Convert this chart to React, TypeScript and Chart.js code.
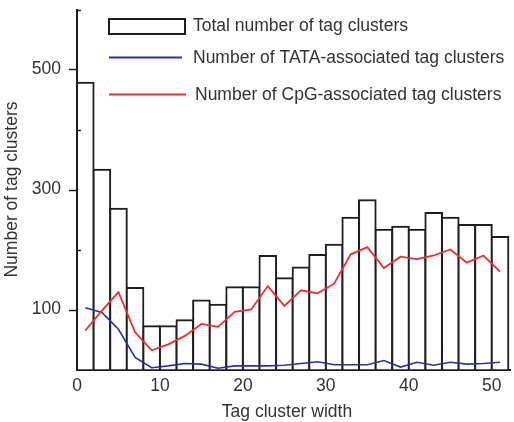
import { useEffect, useRef } from "react";
import { Chart, registerables } from "chart.js";

Chart.register(...registerables);

// Histogram bins are 2 units wide; values are plotted at the bin centres.
const binCenters = [1, 3, 5, 7, 9, 11, 13, 15, 17, 19, 21, 23, 25, 27, 29, 31, 33, 35, 37, 39, 41, 43, 45, 47, 49, 51];
const totalClusters = [478, 333, 268, 136, 72, 72, 82, 115, 108, 137, 137, 189, 152, 170, 191, 208, 253, 282, 233, 238, 233, 261, 253, 241, 241, 221];
const tataClusters = [103, 95, 67, 20, 3, 6, 10, 9, 2, 6, 6, 6, 7, 10, 13, 8, 8, 8, 15, 4, 12, 7, 12, 9, 10, 12];
const cpgClusters = [65, 98, 129, 62, 32, 42, 56, 76, 71, 96, 100, 139, 106, 132, 127, 143, 192, 204, 169, 188, 184, 190, 200, 178, 190, 163];

const seriesLabels = [
  "Total number of tag clusters",
  "Number of TATA-associated tag clusters",
  "Number of CpG-associated tag clusters",
];
const labelledYTicks = [100, 300, 500];
const xTitle = "Tag cluster width";
const yTitle = "Number of tag clusters";

const FONT = '"Liberation Sans", Arial, Helvetica, sans-serif';
const FONT_SIZE = 17.5;
const TEXT = "#333";
const INK = "#1e1e1e";
const BLUE = "#2e3192";
const RED = "#ee2f2f";

const decorations = {
  id: "decorations",
  afterDraw(chart: any) {
    const { ctx, chartArea, scales } = chart;
    const y = scales.y;
    ctx.save();

    // y tick marks: labelled ticks point outward, the others inward
    ctx.strokeStyle = INK;
    ctx.lineWidth = 1.5;
    for (const t of y.ticks) {
      if (t.value === 0) continue;
      const py = Math.round(y.getPixelForValue(t.value)) + 0.5;
      const major = labelledYTicks.includes(t.value);
      ctx.beginPath();
      ctx.moveTo(major ? chartArea.left - 8 : chartArea.left, py);
      ctx.lineTo(chartArea.left + (major ? 1 : 4), py);
      ctx.stroke();
    }

    // x axis title
    ctx.fillStyle = TEXT;
    ctx.font = `${FONT_SIZE}px ${FONT}`;
    ctx.textAlign = "center";
    ctx.textBaseline = "middle";
    ctx.fillText(xTitle, 287, 412);

    // legend
    ctx.textAlign = "left";
    const ds = chart.data.datasets;
    ctx.lineWidth = 2;
    ctx.strokeStyle = INK;
    ctx.strokeRect(109, 19, 76, 15);
    ctx.fillText(ds[0].label, 193, 26);

    ctx.strokeStyle = ds[1].borderColor;
    ctx.beginPath();
    ctx.moveTo(109, 57.5);
    ctx.lineTo(182, 57.5);
    ctx.stroke();
    ctx.fillText(ds[1].label, 193, 58.5);

    ctx.strokeStyle = ds[2].borderColor;
    ctx.beginPath();
    ctx.moveTo(109, 94.5);
    ctx.lineTo(186, 94.5);
    ctx.stroke();
    ctx.fillText(ds[2].label, 195, 95.5);

    ctx.restore();
  },
};

export default function App() {
  const canvasRef = useRef<HTMLCanvasElement | null>(null);

  useEffect(() => {
    const canvas = canvasRef.current;
    if (!canvas) return;

    const chart = new Chart(canvas, {
      type: "bar",
      data: {
        datasets: [
          {
            type: "bar",
            label: seriesLabels[0],
            data: binCenters.map((x, i) => ({ x, y: totalClusters[i] })),
            backgroundColor: "#ffffff",
            borderColor: INK,
            borderWidth: 2,
            inflateAmount: 1,
            barPercentage: 1,
            categoryPercentage: 1,
            order: 3,
          } as any,
          {
            type: "line",
            label: seriesLabels[1],
            data: binCenters.map((x, i) => ({ x, y: tataClusters[i] })),
            borderColor: BLUE,
            borderWidth: 1.6,
            pointRadius: 0,
            tension: 0,
            order: 2,
          },
          {
            type: "line",
            label: seriesLabels[2],
            data: binCenters.map((x, i) => ({ x, y: cpgClusters[i] })),
            borderColor: RED,
            borderWidth: 1.8,
            pointRadius: 0,
            tension: 0,
            order: 1,
          },
        ],
      },
      options: {
        responsive: false,
        animation: false,
        events: [],
        layout: { padding: { top: 9.5, right: 4, left: 0, bottom: 0 } },
        plugins: {
          legend: { display: false },
          tooltip: { enabled: false },
        },
        scales: {
          x: {
            type: "linear",
            min: 0,
            max: 52.2,
            offset: false,
            grid: { display: false, drawTicks: false },
            border: { display: true, color: INK, width: 2 },
            ticks: {
              stepSize: 10,
              includeBounds: false,
              padding: 6,
              color: TEXT,
              font: { family: FONT, size: FONT_SIZE },
              maxRotation: 0,
            },
            afterFit: (scale: any) => {
              scale.height = 52.5;
              scale.paddingLeft = 0;
              scale.paddingRight = 0;
            },
          },
          y: {
            type: "linear",
            min: 0,
            max: 600,
            grid: { display: false, drawTicks: false },
            border: { display: true, color: INK, width: 2 },
            ticks: {
              stepSize: 100,
              padding: 16,
              color: TEXT,
              font: { family: FONT, size: FONT_SIZE },
              callback: (v: any) => (labelledYTicks.includes(Number(v)) ? String(v) : ""),
            },
            title: {
              display: true,
              text: yTitle,
              color: TEXT,
              font: { family: FONT, size: FONT_SIZE },
              padding: { top: 2, bottom: 0 },
            },
            afterFit: (scale: any) => {
              scale.width = 77;
              scale.paddingTop = 0;
              scale.paddingBottom = 0;
            },
          },
        },
      },
      plugins: [decorations],
    });

    return () => chart.destroy();
  }, []);

  return (
    <div style={{ position: "absolute", left: 0, top: 0, width: 514, height: 422, background: "#fff" }}>
      <canvas ref={canvasRef} width={514} height={422} style={{ display: "block" }} />
    </div>
  );
}
